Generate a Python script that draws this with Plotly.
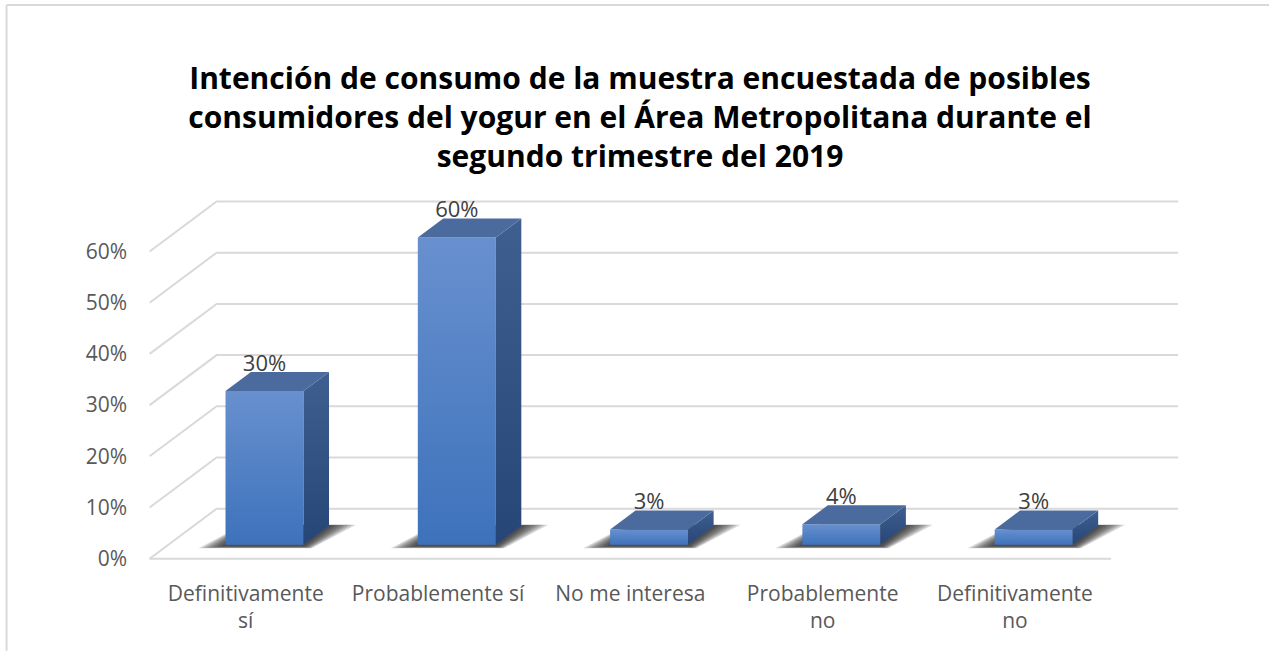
import plotly.graph_objects as go

# ---- data ----
categorias = ["Definitivamente<br>sí", "Probablemente sí", "No me interesa",
              "Probablemente<br>no", "Definitivamente<br>no"]
valores = [30, 60, 3, 4, 3]
etiquetas = ["30%", "60%", "3%", "4%", "3%"]
ticks_y = [0, 10, 20, 30, 40, 50, 60]
ticks_y_txt = ["0%", "10%", "20%", "30%", "40%", "50%", "60%"]
titulo = ["Intención de consumo de la muestra encuestada de posibles",
          "consumidores del yogur en el Área Metropolitana durante el",
          "segundo trimestre del 2019"]

# ---- oblique projection of the 3D box ----
W, H = 1269, 651
PX_X = 192.2          # pixels per category slot
PX_Y = 5.12           # pixels per percentage point
DEPTH_X = 67 / PX_X   # full floor depth, in x units
DEPTH_Y = 50 / PX_Y   # full floor depth, in y units
F_FRONT, F_BACK = 0.28, 0.66   # bar front/back plane as fraction of depth
BAR_W = 78 / PX_X
X_RANGE = [-0.55, 4.9]
Y_RANGE = [-2, 72]
FLOOR_LEFT, FLOOR_RIGHT = -0.5, len(categorias) - 0.5

m_l = 150 - (FLOOR_LEFT - X_RANGE[0]) * PX_X
plot_w = (X_RANGE[1] - X_RANGE[0]) * PX_X
m_r = W - m_l - plot_w
m_b = H - (559 + (0 - Y_RANGE[0]) * PX_Y)
plot_h = (Y_RANGE[1] - Y_RANGE[0]) * PX_Y
m_t = H - m_b - plot_h


def paper_x(px):
    return (px - m_l) / plot_w


def paper_y(py):
    return (H - m_b - py) / plot_h


GRID = "#d9d9d9"
FONT = "Open Sans"

fig = go.Figure()

# walls and floor grid: side wall slants + back wall horizontals
gx, gy = [], []
for v in ticks_y:
    gx += [FLOOR_LEFT, FLOOR_LEFT + DEPTH_X, FLOOR_RIGHT + DEPTH_X, None]
    gy += [v, v + DEPTH_Y, v + DEPTH_Y, None]
gx += [FLOOR_LEFT, FLOOR_RIGHT, None]
gy += [0, 0, None]
fig.add_trace(go.Scatter(x=gx, y=gy, mode="lines",
                         line=dict(color=GRID, width=2), hoverinfo="skip"))

dxb = (F_BACK - F_FRONT) * DEPTH_X
dyb = (F_BACK - F_FRONT) * DEPTH_Y
y0 = F_FRONT * DEPTH_Y

# soft floor shadows
for i, v in enumerate(valores):
    xl = i - BAR_W / 2 + F_FRONT * DEPTH_X
    xr = xl + BAR_W
    for k in range(7):
        e = (4 + 3.8 * k) / PX_X
        ey = (0.6 + 0.1 * k) / PX_Y * 3
        sx = [xl - e, xr + e * 0.3, xr + dxb + e, xl + dxb - e * 0.3, xl - e]
        sy = [y0 - ey, y0 - ey, y0 + dyb + ey * 0.3, y0 + dyb + ey * 0.3, y0 - ey]
        fig.add_trace(go.Scatter(x=sx, y=sy, mode="lines", fill="toself",
                                 fillcolor="rgba(20,20,20,0.18)",
                                 line=dict(width=0), hoverinfo="skip"))

# bars: front, side and top faces
for i, v in enumerate(valores):
    xl = i - BAR_W / 2 + F_FRONT * DEPTH_X
    xr = xl + BAR_W
    yt = y0 + v
    fig.add_trace(go.Scatter(
        x=[xl, xr, xr, xl, xl], y=[y0, y0, yt, yt, y0], mode="lines",
        fill="toself", line=dict(width=0),
        fillgradient=dict(type="vertical", start=yt, stop=y0,
                          colorscale=[[0, "#6890cf"], [1, "#3d72bb"]]),
        hoverinfo="skip"))
    fig.add_trace(go.Scatter(
        x=[xr, xr + dxb, xr + dxb, xr, xr],
        y=[y0, y0 + dyb, yt + dyb, yt, y0], mode="lines",
        fill="toself", line=dict(width=0),
        fillgradient=dict(type="vertical", start=yt + dyb, stop=y0,
                          colorscale=[[0, "#3f5f91"], [1, "#264677"]]),
        hoverinfo="skip"))
    fig.add_trace(go.Scatter(
        x=[xl, xr, xr + dxb, xl + dxb, xl],
        y=[yt, yt, yt + dyb, yt + dyb, yt], mode="lines",
        fill="toself", fillcolor="#4b6b9e", line=dict(width=0),
        hoverinfo="skip"))

# value labels
fig.add_trace(go.Scatter(
    x=[i + F_FRONT * DEPTH_X for i in range(len(valores))],
    y=[y0 + v + 5.0 for v in valores],
    mode="text", text=etiquetas, textposition="middle center",
    textfont=dict(family=FONT, size=22, color="#404040"),
    hoverinfo="skip", cliponaxis=False))

fig.update_layout(
    width=W, height=H,
    margin=dict(l=m_l, r=m_r, t=m_t, b=m_b, autoexpand=False),
    paper_bgcolor="white", plot_bgcolor="white",
    showlegend=False,
    title=dict(text="<b>" + "<br>".join(titulo) + "</b>",
               xref="container", x=640 / W, xanchor="center",
               yref="container", y=1 - 88.5 / H, yanchor="middle",
               font=dict(family=FONT, size=30, color="#000000")),
    xaxis=dict(range=X_RANGE, tickvals=list(range(len(categorias))),
               ticktext=categorias, showgrid=False, zeroline=False,
               showline=False, ticks="", ticklabelstandoff=10,
               tickfont=dict(family=FONT, size=21, color="#595959")),
    yaxis=dict(range=Y_RANGE, tickvals=ticks_y, ticktext=ticks_y_txt,
               showgrid=False, zeroline=False, showline=False, ticks="",
               ticklabelstandoff=12,
               tickfont=dict(family=FONT, size=21, color="#595959")),
)

# outer chart frame (top and left edges)
fig.add_shape(type="line", xref="paper", yref="paper",
              x0=paper_x(7), x1=paper_x(W), y0=paper_y(5.5), y1=paper_y(5.5),
              line=dict(color="#d9d9d9", width=2))
fig.add_shape(type="line", xref="paper", yref="paper",
              x0=paper_x(7), x1=paper_x(7), y0=paper_y(5.5), y1=paper_y(H),
              line=dict(color="#d9d9d9", width=2))

fig.write_html("out.html")
